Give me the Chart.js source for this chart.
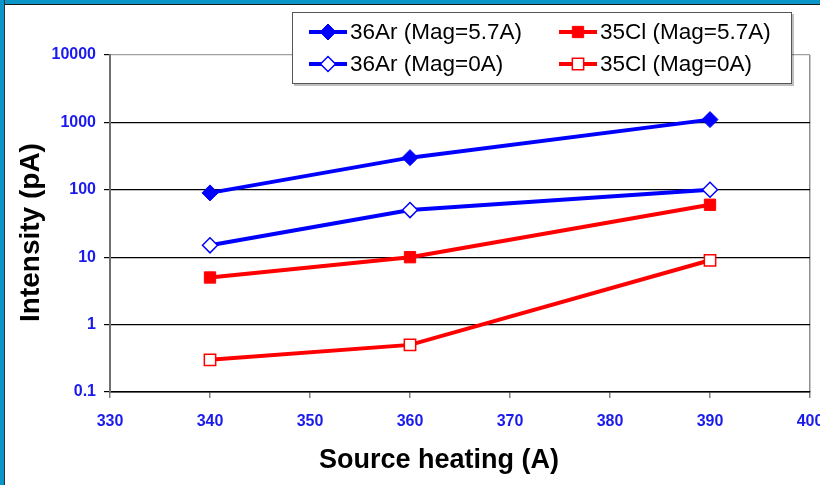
<!DOCTYPE html>
<html>
<head>
<meta charset="utf-8">
<script src="https://cdn.jsdelivr.net/npm/chart.js@4/dist/chart.umd.min.js"></script>
<style>
  html, body { margin: 0; padding: 0; overflow: hidden; background: #fff; }
  #wrap { position: absolute; left: 0; top: 0; width: 840px; height: 485px; }
  .band-top { position: absolute; left: 0; top: 0; width: 820px; height: 4px; background: #0a96c8; border-bottom: 1px solid #1a1a1a; }
  .band-left { position: absolute; left: 0; top: 0; width: 4px; height: 485px; background: #0a96c8; border-right: 1px solid #333; }
</style>
</head>
<body>
<div id="wrap"><canvas id="chart" width="840" height="485"></canvas></div>
<div class="band-top"></div>
<div class="band-left"></div>
<script>
const heating = [340, 360, 390];
const ar36Mag57 = [90, 300, 1100];
const cl35Mag57 = [5, 10, 60];
const ar36Mag0 = [15, 50, 100];
const cl35Mag0 = [0.3, 0.5, 9];
const yTicks = [0.1, 1, 10, 100, 1000, 10000];
const xTicks = [330, 340, 350, 360, 370, 380, 390, 400];
const seriesNames = ["36Ar (Mag=5.7A)", "35Cl (Mag=5.7A)", "36Ar (Mag=0A)", "35Cl (Mag=0A)"];

const blue = "#0000ff";
const red = "#ff0000";
const tickBlue = "#1a1aee";
const FONT = "'Liberation Sans', Arial, sans-serif";

function pts(values) {
  return heating.map((x, i) => ({ x: x, y: values[i] }));
}

// axis titles + boxed legend drawn on the canvas
const decorations = {
  id: "decorations",
  afterDraw(chart) {
    const ctx = chart.ctx;
    const area = chart.chartArea;
    ctx.save();
    ctx.fillStyle = "#000";
    ctx.font = "bold 27px " + FONT;
    ctx.textAlign = "center";
    ctx.textBaseline = "middle";
    ctx.fillText("Source heating (A)", area.left + (area.right - area.left) * 0.47, 461);
    ctx.translate(31, (area.top + area.bottom) / 2 + 9);
    ctx.rotate(-Math.PI / 2);
    ctx.font = "bold 28px " + FONT;
    ctx.fillText("Intensity (pA)", 0, 0);
    ctx.restore();

    // legend box
    ctx.save();
    ctx.fillStyle = "rgba(0,0,0,0.25)";
    ctx.fillRect(294, 14, 500, 72);
    ctx.fillStyle = "#fff";
    ctx.fillRect(292, 12, 500, 72);
    ctx.strokeStyle = "#555";
    ctx.lineWidth = 1;
    ctx.strokeRect(292.5, 12.5, 499, 71);
    ctx.font = "22.5px " + FONT;
    ctx.textAlign = "left";
    ctx.textBaseline = "middle";
    chart.data.datasets.forEach((ds, i) => {
      const col = i % 2, row = Math.floor(i / 2);
      const x0 = col === 0 ? 309 : 559;
      const y0 = row === 0 ? 32 : 64;
      ctx.strokeStyle = ds.borderColor;
      ctx.lineWidth = 4;
      ctx.beginPath();
      ctx.moveTo(x0, y0);
      ctx.lineTo(x0 + 38, y0);
      ctx.stroke();
      ctx.fillStyle = ds.pointBackgroundColor;
      ctx.strokeStyle = ds.borderColor;
      ctx.lineWidth = ds.pointBorderWidth;
      Chart.helpers.drawPoint(ctx, {
        pointStyle: ds.pointStyle, radius: ds.pointRadius, rotation: 0, borderWidth: ds.pointBorderWidth
      }, x0 + 19, y0);
      ctx.fillStyle = "#000";
      ctx.fillText(ds.label, x0 + 41, y0 + 1);
    });
    ctx.restore();
  }
};

const ctx = document.getElementById("chart");
const myChart = new Chart(ctx, {
  type: "line",
  data: {
    datasets: [
      {
        label: seriesNames[0], data: pts(ar36Mag57),
        borderColor: blue, backgroundColor: blue, pointBackgroundColor: blue,
        pointStyle: "rectRot", pointRadius: 8, pointBorderWidth: 1
      },
      {
        label: seriesNames[1], data: pts(cl35Mag57),
        borderColor: red, backgroundColor: red, pointBackgroundColor: red,
        pointStyle: "rect", pointRadius: 8, pointBorderWidth: 1
      },
      {
        label: seriesNames[2], data: pts(ar36Mag0),
        borderColor: blue, backgroundColor: "#fff", pointBackgroundColor: "#fff",
        pointStyle: "rectRot", pointRadius: 7.5, pointBorderWidth: 1.5
      },
      {
        label: seriesNames[3], data: pts(cl35Mag0),
        borderColor: red, backgroundColor: "#fff", pointBackgroundColor: "#fff",
        pointStyle: "rect", pointRadius: 8, pointBorderWidth: 1.5
      }
    ]
  },
  options: {
    responsive: false,
    animation: false,
    layout: { padding: { left: 0, right: 30, top: 55, bottom: 0 } },
    elements: { line: { borderWidth: 4, tension: 0 } },
    plugins: { legend: { display: false }, tooltip: { enabled: false } },
    scales: {
      x: {
        type: "linear", min: 330, max: 400,
        afterFit(scale) { scale.height = 93; },
        afterBuildTicks(scale) { scale.ticks = xTicks.map(v => ({ value: v })); },
        grid: {
          drawOnChartArea: true,
          color: c => (c.tick && c.tick.value === 400 ? "#909090" : "rgba(0,0,0,0)"),
          tickColor: "#808080", tickLength: 6, lineWidth: 1.5
        },
        border: { color: "#000", width: 1.5 },
        ticks: { color: tickBlue, font: { family: FONT, size: 16, weight: "bold" }, padding: 14, maxRotation: 0 }
      },
      y: {
        type: "logarithmic", min: 0.1, max: 10000,
        afterFit(scale) { scale.width = 110; },
        afterBuildTicks(scale) { scale.ticks = yTicks.map(v => ({ value: v })); },
        grid: {
          color: c => (c.tick && c.tick.value === 10000 ? "#a0a0a0" : "#000"),
          tickColor: "#000", tickLength: 6, lineWidth: 1.2
        },
        border: { color: "#707070", width: 2 },
        ticks: {
          color: tickBlue, font: { family: FONT, size: 16, weight: "bold" }, padding: 8,
          callback: v => String(v)
        }
      }
    }
  },
  plugins: [decorations]
});
</script>
</body>
</html>
